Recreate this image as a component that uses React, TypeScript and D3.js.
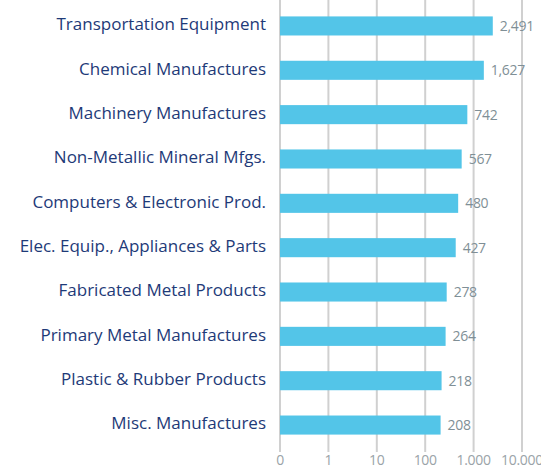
import React from "react";
import * as d3 from "d3";

const categories = [
  "Transportation Equipment",
  "Chemical Manufactures",
  "Machinery Manufactures",
  "Non-Metallic Mineral Mfgs.",
  "Computers & Electronic Prod.",
  "Elec. Equip., Appliances & Parts",
  "Fabricated Metal Products",
  "Primary Metal Manufactures",
  "Plastic & Rubber Products",
  "Misc. Manufactures",
];
const values = [2491, 1627, 742, 567, 480, 427, 278, 264, 218, 208];
const tickValues = [0.1, 1, 10, 100, 1000, 10000];
const tickLabels = ["0", "1", "10", "100", "1.000", "10.000"];

export default function App() {
  const W = 541, H = 468;
  const x = d3.scaleLog().domain([0.1, 10000]).range([280, 522]);
  const y = d3.scaleBand().domain(categories).range([4, 447]).paddingInner(0.57).paddingOuter(0.28);
  const fmt = d3.format(",");
  return (
    <svg width={W} height={H} style={{ position: "absolute", left: 0, top: 0 }} fontFamily="'Open Sans', sans-serif">
      {tickValues.map((t, i) => (
        <g key={i}>
          <line x1={x(t)} x2={x(t)} y1={0} y2={452} stroke="#d0d0d0" strokeWidth={2} />
          <text x={x(t)} y={464.5} textAnchor="middle" fontSize={14} letterSpacing={-0.3} fill="#9aa3a8">{tickLabels[i]}</text>
        </g>
      ))}
      {categories.map((c, i) => (
        <g key={c}>
          <rect x={x(0.1)} y={y(c)} width={x(values[i]) - x(0.1)} height={y.bandwidth()} fill="#53c5e8" />
          <text x={266} y={y(c)! + y.bandwidth() / 2 - 1.5} dy="0.35em" textAnchor="end" fontSize={17} fill="#1e3a78">{c}</text>
          <text x={x(values[i]) + 7} y={y(c)! + y.bandwidth() / 2} dy="0.35em" fontSize={14} letterSpacing={-0.3} fill="#7f8f96">{fmt(values[i])}</text>
        </g>
      ))}
    </svg>
  );
}
